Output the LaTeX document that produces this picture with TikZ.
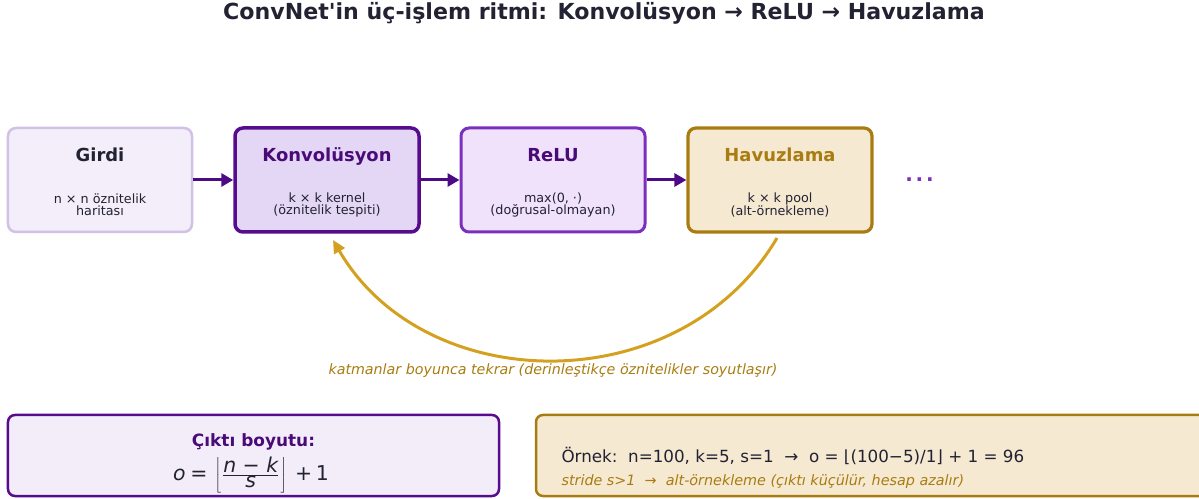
\documentclass[tikz,border=0pt]{standalone}
\usepackage{fontspec}
\setmainfont{DejaVu Sans}
\newfontfamily\plainfont{DejaVu Sans}
\usetikzlibrary{arrows.meta}
\definecolor{txt}{HTML}{222233}
\definecolor{dpurple}{HTML}{4A0A78}
\definecolor{arrowc}{HTML}{4E0A85}
\definecolor{mpurple}{HTML}{7B2FBE}
\definecolor{lpurpleb}{HTML}{D3C0E6}
\definecolor{girdifill}{HTML}{F3EEF9}
\definecolor{konvfill}{HTML}{E4D6F5}
\definecolor{konvb}{HTML}{560C8C}
\definecolor{relufill}{HTML}{EFE2FA}
\definecolor{gold}{HTML}{A87C10}
\definecolor{goldline}{HTML}{D4A020}
\definecolor{havfill}{HTML}{F6E9D2}
\definecolor{boxfillA}{HTML}{F3EDF9}
\tikzset{
  box/.style={draw, rounded corners=8bp, minimum width=184bp, minimum height=104bp, inner sep=0},
  btitle/.style={font=\fontsize{18}{20}\selectfont\bfseries, anchor=base},
  bsub/.style={font=\fontsize{12.8}{14}\selectfont, text=txt, align=center},
  flow/.style={draw=arrowc, line width=3bp, -{Triangle[length=12bp,width=13bp]}},
}
\begin{document}
\begin{tikzpicture}[x=1bp,y=-1bp]
\useasboundingbox (0,0) rectangle (1199,499);
\node[font=\plainfont\fontsize{22.2}{26}\selectfont\bfseries, text=txt] (title) at (604,13) {ConvNet'in üç-işlem ritmi: Konvolüsyon → ReLU → Havuzlama};
% boxes
\node[box, draw=lpurpleb, fill=girdifill, line width=2.5bp] (girdi) at (100,180) {};
\node[box, draw=konvb, fill=konvfill, line width=3.5bp] (konv) at (327,180) {};
\node[box, draw=mpurple, fill=relufill, line width=3bp] (relu) at (553,180) {};
\node[box, draw=gold, fill=havfill, line width=3.2bp] (hav) at (780,180) {};
\node[btitle, text=txt] (girdiT) at (100,161.5) {Girdi};
\node[btitle, text=dpurple] (konvT) at (327,161.5) {Konvolüsyon};
\node[btitle, text=dpurple] (reluT) at (553,161.5) {ReLU};
\node[btitle, text=gold] (havT) at (780,161.5) {Havuzlama};
\node[bsub] (girdiS) at (100,205) {n × n öznitelik\\[-1.5bp]haritası};
\node[bsub] (konvS) at (327,205) {k × k kernel\\[-1.5bp](öznitelik tespiti)};
\node[bsub] (reluS) at (553,205) {max(0, ·)\\[-1.5bp](doğrusal-olmayan)};
\node[bsub] (havS) at (780,205) {k × k pool\\[-1.5bp](alt-örnekleme)};
\node[font=\fontsize{20}{22}\selectfont\bfseries, text=mpurple, anchor=base] (dots) at (919.5,181.5) {.\hspace{2.9bp}.\hspace{2.9bp}.};
% flow arrows
\draw[flow] (girdi.east) -- (konv.west);
\draw[flow] (konv.east) -- (relu.west);
\draw[flow] (relu.east) -- (hav.west);
% loop
\coordinate (loopS) at (777,238);
\coordinate (loopE) at (333,240);
\draw[draw=goldline, line width=3bp, -{Triangle[length=13bp,width=12bp]}] (loopS) .. controls (680,402) and (425,398) .. (loopE);
\node[font=\fontsize{14.3}{16}\selectfont\itshape, text=gold] (loopL) at (553,371) {katmanlar boyunca tekrar (derinleştikçe öznitelikler soyutlaşır)};
% bottom boxes
\node[draw=konvb, fill=boxfillA, line width=2.5bp, rounded corners=7bp, minimum width=491bp, minimum height=81bp] (outbox) at (253.5,455.5) {};
\node[font=\fontsize{17}{19}\selectfont\bfseries, text=dpurple, inner sep=0] (outT) at (253.5,441.5) {Çıktı boyutu:};
\node[font=\fontsize{20.5}{22}\selectfont, text=txt, inner sep=0] (outF) at (251,475) {$\textstyle\mbox{\itshape o}\mkern4mu\mbox{=}\mkern3mu\left\lfloor\mkern1mu\frac{\mbox{\itshape n − k}}{\mbox{\itshape s}}\mkern1mu\right\rfloor\mkern4mu\mbox{+}\mkern3mu\mbox{1}$};
\node[draw=gold, fill=havfill, line width=2.5bp, rounded corners=7bp, minimum width=700bp, minimum height=81bp] (exbox) at (886,455.5) {};
\node[anchor=west, font=\fontsize{16.8}{18}\selectfont, text=txt] (exT) at (558,456) {Örnek:\ \ n=100, k=5, s=1\ \ →\ \ o = ⌊(100−5)/1⌋ + 1 = 96};
\node[anchor=west, font=\fontsize{14.4}{16}\selectfont\itshape, text=gold] (exS) at (558,482) {stride s>1\ \ →\ \ alt-örnekleme (çıktı küçülür, hesap azalır)};
\end{tikzpicture}
\end{document}
